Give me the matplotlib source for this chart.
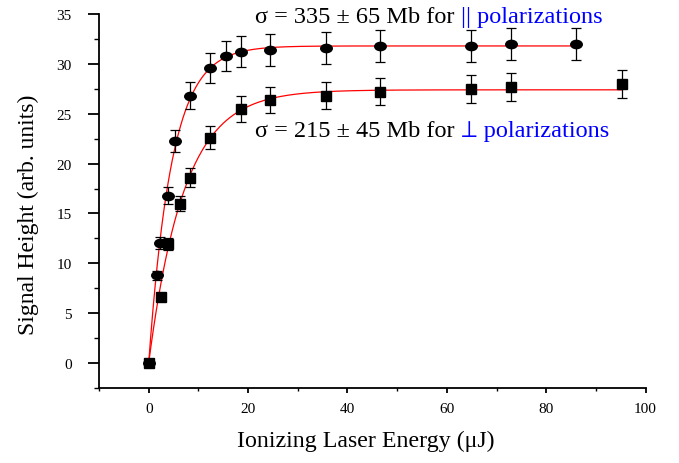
import numpy as np
import matplotlib
matplotlib.use("Agg")
import matplotlib.pyplot as plt
from matplotlib.path import Path
from matplotlib.transforms import Affine2D

plt.rcParams['font.family'] = ['Liberation Serif', 'STIXGeneral', 'DejaVu Serif']

# parallel polarization data (circles)
par_x = [0, 1.6, 2.3, 3.8, 5.3, 8.4, 12.4, 15.5, 18.5, 24.5, 35.6, 46.6, 64.8, 73.0, 86.0]
par_y = [0, 8.8, 12.0, 16.8, 22.3, 26.8, 29.6, 30.8, 31.2, 31.4, 31.6, 31.8, 31.8, 32.0, 32.0]
par_err = [0.1, 0.45, 0.6, 0.84, 1.12, 1.34, 1.48, 1.54, 1.56, 1.57, 1.58, 1.59, 1.59, 1.6, 1.6]

# perpendicular polarization data (squares)
perp_x = [0, 2.4, 3.8, 6.3, 8.4, 12.4, 18.5, 24.5, 35.6, 46.6, 64.8, 73.0, 95.2]
perp_y = [0, 6.6, 11.9, 16.0, 18.6, 22.6, 25.5, 26.4, 26.8, 27.2, 27.5, 27.7, 27.95]
perp_err = [0.1, 0.33, 0.6, 0.8, 0.93, 1.13, 1.28, 1.32, 1.34, 1.36, 1.38, 1.39, 1.4]

# saturation fit parameters  y = A*(1 - exp(-k*E))
par_fit = (31.8, 0.215)
perp_fit = (27.4, 0.14)

fig = plt.figure(figsize=(6.79, 4.64), dpi=100)
ax = fig.add_axes([0.1458, 0.1616, 0.805, 0.806])

ellipse = Path.unit_circle().transformed(Affine2D().scale(1.0, 0.72))

for (A, k), xs in ((par_fit, par_x), (perp_fit, perp_x)):
    e = np.linspace(0, max(xs), 400)
    ax.plot(e, A * (1 - np.exp(-k * e)), color='red', lw=0.9, zorder=1)

ax.errorbar(par_x, par_y, yerr=par_err, fmt='none', ecolor='black',
            elinewidth=0.9, capsize=3.6, capthick=0.9, zorder=2)
ax.plot(par_x, par_y, ls='none', marker=ellipse, ms=8.3, color='black', zorder=3)
ax.errorbar(perp_x, perp_y, yerr=perp_err, fmt='none', ecolor='black',
            elinewidth=0.9, capsize=3.6, capthick=0.9, zorder=2)
ax.plot(perp_x, perp_y, ls='none', marker='s', ms=6.5, color='black', zorder=3)

ax.set_xlim(-10, 100)
ax.set_ylim(-2.5, 35)
ax.set_xticks(np.arange(0, 101, 20))
ax.set_xticks(np.arange(-10, 101, 10), minor=True)
ax.set_yticks(np.arange(0, 36, 5))
ax.set_yticks(np.arange(-2.5, 35.1, 2.5), minor=True)
for s in ('top', 'right'):
    ax.spines[s].set_visible(False)
for s in ('left', 'bottom'):
    ax.spines[s].set_linewidth(1.3)
ax.tick_params(which='both', direction='out', labelsize=11)
ax.tick_params(axis='x', which='major', length=3.6, width=1.3, pad=6.5)
ax.tick_params(axis='x', which='minor', length=1.8, width=1.0)
ax.tick_params(axis='y', which='major', length=8, width=1.3, pad=11.5)
ax.tick_params(axis='y', which='minor', length=3.6, width=1.0)

ax.set_xlabel('Ionizing Laser Energy (\u03bcJ)', fontsize=17.2, va='center')
ax.xaxis.set_label_coords(0.488, -0.139)
ax.set_ylabel('Signal Height (arb. units)', fontsize=17, va='center')
ax.yaxis.set_label_coords(-0.13, 0.465)

lines = [('\u03c3 = 335 \u00b1 65 Mb for ', '|| polarizations', 0.9504),
         ('\u03c3 = 215 \u00b1 45 Mb for ', '\u22a5 polarizations', 0.7047)]
fig.canvas.draw()
r = fig.canvas.get_renderer()
for black, blue, yb in lines:
    t = fig.text(0.3756, yb, black, fontsize=17.5, ha='left', va='baseline')
    bb = t.get_window_extent(r).transformed(fig.transFigure.inverted())
    fig.text(bb.x1, yb, blue, fontsize=17.5, ha='left', va='baseline', color='blue')

fig.savefig('out.png', dpi=100)
